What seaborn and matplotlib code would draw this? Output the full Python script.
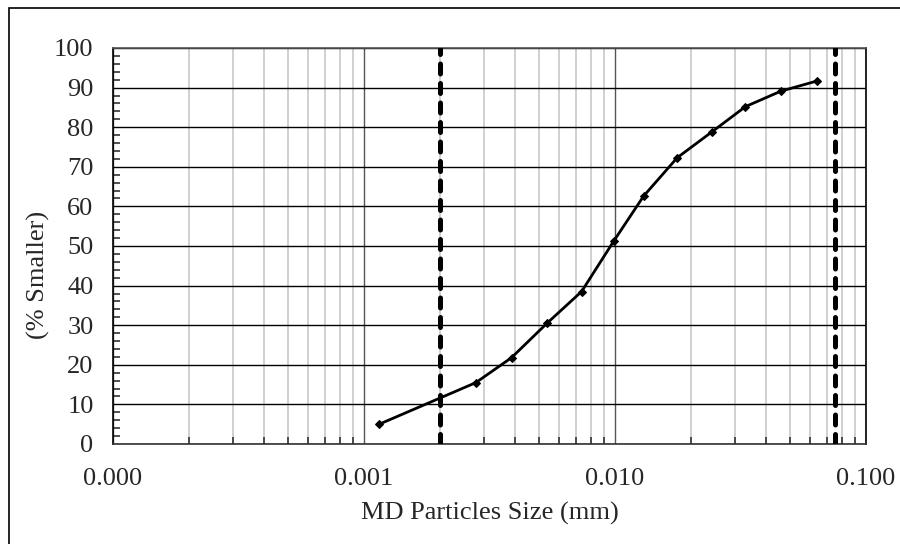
import matplotlib
matplotlib.use("Agg")
import matplotlib.pyplot as plt
import matplotlib.ticker as mticker
from matplotlib.patches import Rectangle
import seaborn as sns
import pandas as pd
import numpy as np

# Data
particle_size_mm = [0.00115, 0.00279, 0.00387, 0.00536, 0.00736, 0.0099,
                    0.0130, 0.0177, 0.0243, 0.0331, 0.0458, 0.0640]
percent_smaller = [5.0, 15.5, 21.8, 30.5, 38.5, 51.3,
                   62.6, 72.3, 78.8, 85.2, 89.1, 91.7]
limit_lines_mm = [0.002, 0.075]
y_ticks = list(range(0, 101, 10))
x_ticks = [0.0001, 0.001, 0.01, 0.1]
x_tick_labels = ["0.000", "0.001", "0.010", "0.100"]

df = pd.DataFrame({"size": particle_size_mm, "pct": percent_smaller})

sns.set_theme(style="white")
plt.rcParams["font.family"] = ["Liberation Serif", "DejaVu Serif"]

FS = 19

fig = plt.figure(figsize=(9, 5.44), dpi=100)
ax = fig.add_axes([113 / 900, 1 - 444 / 544, (866 - 113) / 900, (444 - 48) / 544])

ax.set_xscale("log")
ax.set_xlim(0.0001, 0.1)
ax.set_ylim(0, 100)

# Grid
ax.set_xticks(x_ticks)
ax.set_xticklabels(x_tick_labels)
ax.xaxis.set_minor_locator(mticker.LogLocator(base=10, subs=np.arange(2, 10)))
ax.xaxis.set_minor_formatter(mticker.NullFormatter())
ax.set_yticks(y_ticks)
ax.yaxis.set_minor_locator(mticker.MultipleLocator(2))

ax.grid(which="major", axis="y", color="black", linewidth=1.0, zorder=0)
ax.grid(which="major", axis="x", color="#555555", linewidth=1.0, zorder=0)
ax.grid(which="minor", axis="x", color="#c8c8c8", linewidth=1.2, zorder=0)
ax.set_axisbelow(True)

# Ticks
ax.tick_params(axis="both", which="major", direction="out", length=6, width=1.2,
               color="#333333", labelsize=FS, pad=8)
ax.tick_params(axis="x", which="major", pad=11)
ax.tick_params(axis="both", which="minor", direction="in", length=5, width=1.2,
               color="#333333")
ax.tick_params(axis="x", which="minor", bottom=True)
ax.tick_params(axis="y", which="minor", left=True)

for side in ["left", "bottom", "right", "top"]:
    ax.spines[side].set_visible(True)
    ax.spines[side].set_linewidth(1.2)
ax.spines["left"].set_color("black")
ax.spines["bottom"].set_color("#333333")
ax.spines["right"].set_color("black")
ax.spines["top"].set_color("#555555")

# Limit lines
for xv in limit_lines_mm:
    ax.axvline(xv, color="black", linewidth=3.6, linestyle=(0, (2.0, 1.9)),
               dash_capstyle="round", zorder=3)

# Data
sns.lineplot(data=df, x="size", y="pct", ax=ax, color="black", linewidth=2.0,
             marker="D", markersize=4.5, markeredgecolor="black", zorder=4)

ax.set_xlabel("MD Particles Size (mm)", fontsize=FS, labelpad=9)
ax.set_ylabel("(% Smaller)", fontsize=FS, rotation=90, va="center", ha="center")
ax.yaxis.set_label_coords((38 - 113) / (866 - 113), (444 - 275) / (444 - 48))

# Figure border (right and bottom edges fall outside the image)
fig.patches.append(Rectangle((9 / 900, -0.02), 1.0, 1 - 8 / 544 + 0.02,
                             transform=fig.transFigure, fill=False,
                             edgecolor="black", linewidth=1.2, clip_on=False))

fig.savefig("out.png", dpi=100)
